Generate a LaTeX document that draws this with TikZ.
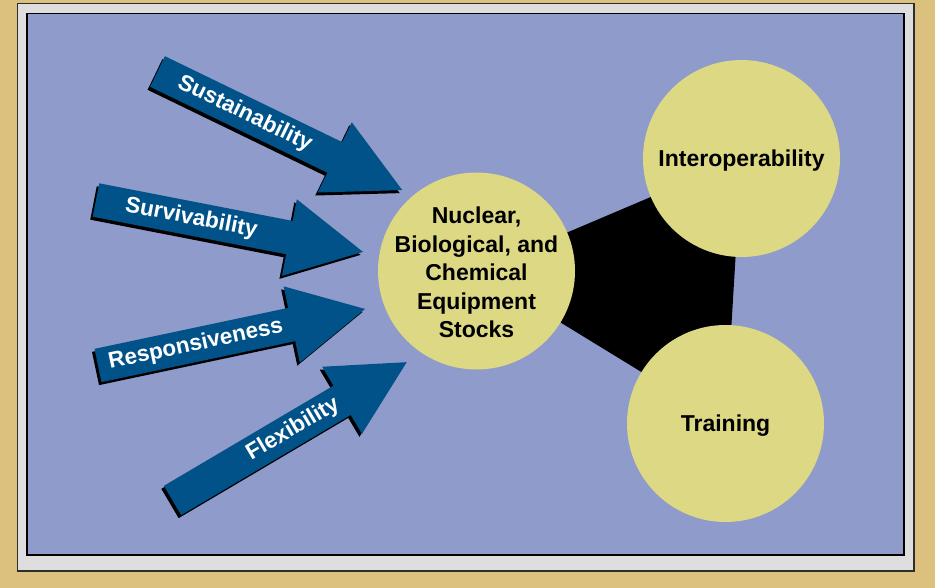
\documentclass[tikz,border=0pt]{standalone}
\usepackage{fontspec}
\setmainfont{Liberation Sans}
\definecolor{tanbg}{RGB}{219,193,125}
\definecolor{framegray}{RGB}{222,222,222}
\definecolor{panelblue}{RGB}{143,155,202}
\definecolor{arrowblue}{RGB}{0,82,136}
\definecolor{circfill}{RGB}{221,216,131}
\tikzset{
  arrowtext/.style={text=white,font=\fontsize{22.5}{26}\selectfont\bfseries,inner sep=0pt},
  circtext/.style={text=black,font=\fontsize{23}{28.5}\selectfont\bfseries,align=center,inner sep=0pt},
  bubble/.style={fill=circfill},
}
\newcommand{\blockarr}[7]{%
  % #1 name, #2 x, #3 y, #4 angle (down positive), #5 length, #6 text, #7 text position
  \begin{scope}[shift={(#2-2.5,#3+3)},rotate=-#4]
    \fill[black] (0,-17)--(#5-75,-17)--(#5-75,-39)--(#5,0)--(#5-75,39)--(#5-75,17)--(0,17)--cycle;
  \end{scope}
  \begin{scope}[shift={(#2,#3)},rotate=-#4]
    \fill[arrowblue] (0,-17)--(#5-75,-17)--(#5-75,-39)--(#5,0)--(#5-75,39)--(#5-75,17)--(0,17)--cycle;
    \node[arrowtext,rotate=-#4] (#1) at (#7,0) {#6};
  \end{scope}
}
\begin{document}
\begin{tikzpicture}[x=1pt,y=-1pt]
\useasboundingbox (0,0) rectangle (935,588);
\fill[tanbg] (0,0) rectangle (935,588);
\draw[fill=framegray,draw={rgb,255:red,45;green,45;blue,45},line width=1.2pt] (17.5,3.5) rectangle (914,571);
\draw[fill=panelblue,draw=black,line width=1.2pt] (27,13.5) rectangle (904,555);
% hub coordinates
\coordinate (cc) at (476.5,271);
\coordinate (ci) at (741.5,158.5);
\coordinate (ct) at (725.5,423.5);
\fill[black] (cc) -- (ci) -- (ct) -- cycle;
\fill[bubble] (cc) circle (98.5);
\fill[bubble] (ci) circle (98.5);
\fill[bubble] (ct) circle (98.5);
\node[circtext] (core) at (476.5,272.5) {Nuclear,\\Biological, and\\Chemical\\Equipment\\Stocks};
\node[circtext,anchor=base] (inter) at (741.5,166.5) {Interoperability};
\node[circtext,anchor=base] (train) at (725.5,431) {Training};
% arrows
\blockarr{flex}{172.5}{500.5}{-30.57}{272}{Flexibility}{140}
\blockarr{resp}{98}{365.5}{-11.95}{273}{Responsiveness}{100}
\blockarr{surv}{96}{200}{11.0}{272}{Survivability}{97}
\blockarr{sust}{157.5}{71.5}{25.86}{272}{Sustainability}{97}
\end{tikzpicture}
\end{document}
